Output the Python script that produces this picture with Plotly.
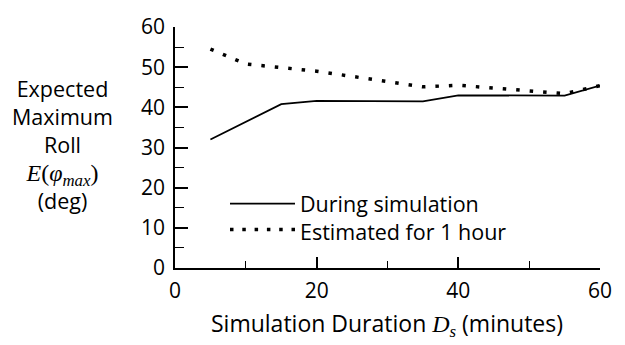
import plotly.graph_objects as go

# Data
during_x = [5, 15, 20, 35, 40, 55, 60]
during_y = [32.0, 40.8, 41.6, 41.5, 43.0, 42.9, 45.4]

est_x = [5, 10, 20, 35, 40, 55, 60]
est_y = [54.5, 50.8, 49.0, 45.1, 45.5, 43.4, 45.4]

MATH = "<span style=\"font-family:'Liberation Serif';font-size:24px\">"
legend_labels = ["During simulation", "Estimated for 1 hour"]
ytitle_lines = ["Expected", "Maximum", "Roll",
                MATH + "<i>E</i>(<i>φ</i><sub><i>max</i></sub>)</span>", "(deg)"]
xtitle = ("Simulation Duration " + MATH + "<i>D</i><sub><i>s</i></sub></span>"
          " (minutes)")

FONT = "Open Sans"
W, H = 625, 345
L, R, T, B = 175, 25, 17, 77
pw, ph = W - L - R, H - T - B

def px2paper_x(px):
    return (px - L) / pw

def px2paper_y(py):
    return (H - B - py) / ph

DOT = "3.5px,10px"

fig = go.Figure()
fig.add_trace(go.Scatter(x=during_x, y=during_y, mode="lines",
                         line=dict(color="black", width=1.8),
                         showlegend=False))
fig.add_trace(go.Scatter(x=est_x, y=est_y, mode="lines",
                         line=dict(color="black", width=3.5, dash=DOT),
                         showlegend=False))

# manual legend
fig.add_shape(type="line", xref="paper", yref="paper",
              x0=px2paper_x(230), x1=px2paper_x(295),
              y0=px2paper_y(201), y1=px2paper_y(201),
              line=dict(color="black", width=1.8))
fig.add_shape(type="line", xref="paper", yref="paper",
              x0=px2paper_x(230), x1=px2paper_x(295),
              y0=px2paper_y(228), y1=px2paper_y(228),
              line=dict(color="black", width=3.5, dash="3.5px,8.8px"))
fig.add_annotation(text="<br>".join(legend_labels), xref="paper", yref="paper",
                   x=px2paper_x(298), y=px2paper_y(215),
                   xanchor="left", yanchor="middle", align="left",
                   showarrow=False,
                   font=dict(family=FONT, size=21.5, color="black"))

# y title (multi-line)
fig.add_annotation(text="<br>".join(ytitle_lines), xref="paper", yref="paper",
                   x=px2paper_x(63), y=px2paper_y(139),
                   xanchor="center", yanchor="middle", align="center",
                   showarrow=False,
                   font=dict(family=FONT, size=21.5, color="black"))

# x title
fig.add_annotation(text=xtitle, xref="paper", yref="paper",
                   x=px2paper_x(387), y=px2paper_y(326),
                   xanchor="center", yanchor="middle", showarrow=False,
                   font=dict(family=FONT, size=23, color="black"))

fig.update_xaxes(range=[0, 60], showgrid=False, zeroline=False,
                 showline=True, linecolor="black", linewidth=1.8,
                 ticks="inside", tickcolor="black", ticklen=11, tickwidth=1.5,
                 tick0=0, dtick=20, ticklabelstandoff=3,
                 tickfont=dict(family=FONT, size=21, color="black"),
                 minor=dict(ticks="inside", dtick=10, ticklen=7,
                            tickcolor="black", tickwidth=1.2, showgrid=False))
fig.update_yaxes(range=[0, 60], showgrid=False, zeroline=False,
                 showline=True, linecolor="black", linewidth=1.8,
                 ticks="inside", tickcolor="black", ticklen=13, tickwidth=1.5,
                 tick0=0, dtick=10, ticklabelstandoff=4,
                 tickfont=dict(family=FONT, size=21, color="black"),
                 minor=dict(ticks="inside", dtick=5, ticklen=9,
                            tickcolor="black", tickwidth=1.2, showgrid=False))

fig.update_layout(width=W, height=H,
                  margin=dict(l=L, r=R, t=T, b=B),
                  paper_bgcolor="white", plot_bgcolor="white",
                  showlegend=False)

fig.write_html("out.html")
